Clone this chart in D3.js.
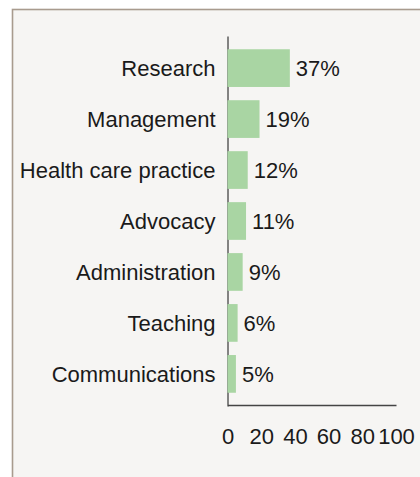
<!DOCTYPE html>
<html>
<head>
<meta charset="utf-8">
<script src="https://cdn.jsdelivr.net/npm/d3@7"></script>
<style>
  body { margin: 0; background: #fff; }
  text { font-family: "Liberation Sans", Arial, sans-serif; fill: #1a1a1a; }
</style>
</head>
<body>
<div id="chart"></div>
<script>
const categories = ["Research", "Management", "Health care practice", "Advocacy", "Administration", "Teaching", "Communications"]
const values = [37, 19, 12, 11, 9, 6, 5]
const xTicks = [0, 20, 40, 60, 80, 100]

const W = 420, H = 477
const FONT = 22

const svg = d3.select("#chart").append("svg")
    .attr("width", W)
    .attr("height", H)

// panel
svg.append("rect")
    .attr("x", 12.5).attr("y", 9.5)
    .attr("width", W + 20).attr("height", H + 20)
    .attr("fill", "#f6f5f3")
    .attr("stroke", "#a89b8e")
    .attr("stroke-width", 1.6)

const x = d3.scaleLinear().domain([0, 100]).range([227.5, 396])
const y = d3.scaleBand().domain(categories).range([36, 406]).padding(0.26)

// y axis
const yAxis = svg.append("g")
    .attr("transform", `translate(${x(0)},0)`)
    .call(d3.axisLeft(y).tickSize(0).tickSizeOuter(0).tickPadding(12))
yAxis.select(".domain").attr("stroke", "#111").attr("stroke-width", 1)
yAxis.selectAll("text").attr("font-size", FONT).attr("font-family", null).attr("dy", "0.38em")

// x axis
const xAxis = svg.append("g")
    .attr("transform", `translate(0,405)`)
    .call(d3.axisBottom(x).tickValues(xTicks).tickSize(0).tickSizeOuter(0).tickPadding(23))
xAxis.select(".domain").attr("stroke", "#444").attr("stroke-width", 1.6)
xAxis.selectAll("text").attr("font-size", FONT).attr("font-family", null)

// bars
svg.selectAll("rect.bar")
    .data(values)
    .enter().append("rect")
    .attr("class", "bar")
    .attr("x", x(0))
    .attr("y", (d, i) => y(categories[i]))
    .attr("width", d => x(d) - x(0))
    .attr("height", y.bandwidth())
    .attr("fill", "#a9d5a3")

// value labels
svg.selectAll("text.val")
    .data(values)
    .enter().append("text")
    .attr("class", "val")
    .attr("x", d => x(d) + 6)
    .attr("y", (d, i) => y(categories[i]) + y.bandwidth() / 2)
    .attr("dy", "0.38em")
    .attr("font-size", FONT)
    .text(d => d + "%")
</script>
</body>
</html>
